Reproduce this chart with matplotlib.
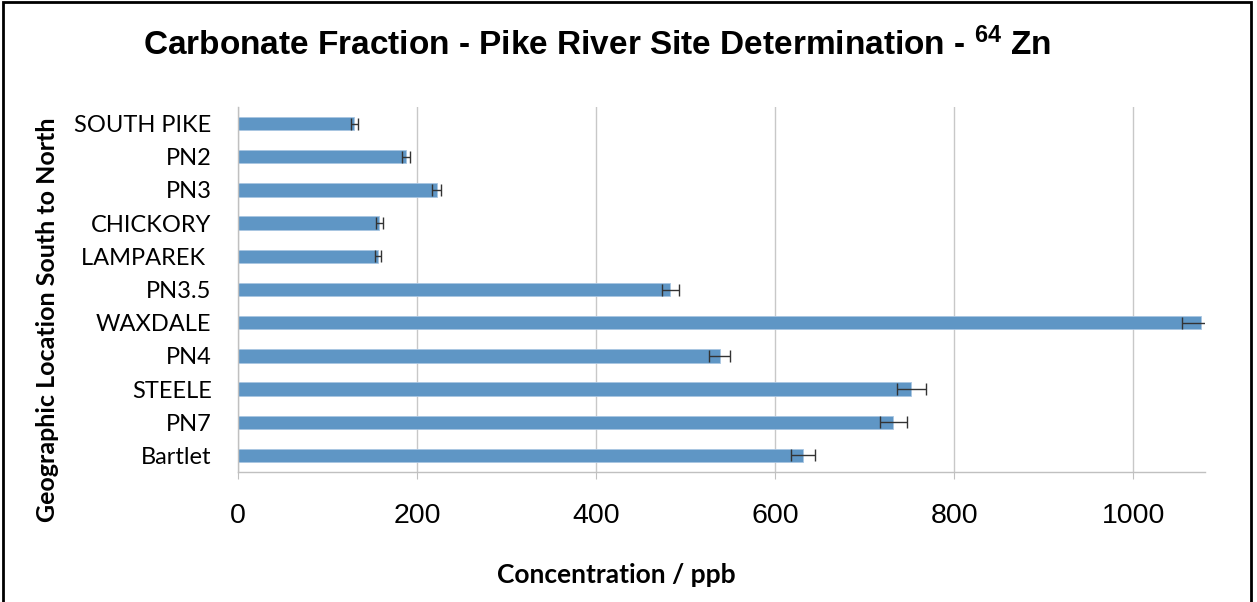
import matplotlib.pyplot as plt
from matplotlib.patches import Rectangle

plt.rcParams["mathtext.fontset"] = "custom"
plt.rcParams["mathtext.rm"] = "Liberation Sans:bold"
plt.rcParams["mathtext.it"] = "Liberation Sans:bold"
plt.rcParams["mathtext.bf"] = "Liberation Sans:bold"

# sites listed south to north (top to bottom)
sites = ["SOUTH PIKE", "PN2", "PN3", "CHICKORY", "LAMPAREK ", "PN3.5",
         "WAXDALE", "PN4", "STEELE", "PN7", "Bartlet"]
conc = [130, 188, 222, 158, 156, 483, 1075, 538, 752, 732, 631]
err = [3.5, 4.5, 5, 3.5, 3.5, 10, 21, 12, 16, 15, 13]
xticks = [0, 200, 400, 600, 800, 1000]

fig = plt.figure(figsize=(12.57, 6.02), dpi=100)
ax = fig.add_axes([238 / 1257, 130 / 602, 967 / 1257, 365 / 602])

pos = list(range(len(sites)))
ax.barh(pos, conc, height=0.4, color="#5f96c5", edgecolor="#a9c6e2",
        linewidth=0.6, zorder=2)
ax.errorbar(conc, pos, xerr=err, fmt="none", ecolor="#333333",
            elinewidth=1, capsize=4, capthick=1, zorder=3)

ax.set_xlim(0, 1080)
ax.set_ylim(len(sites) - 0.5, -0.5)
ax.set_yticks(pos)
ax.set_yticklabels(sites, fontfamily="Lato", fontsize=17)
ax.set_xticks(xticks)
ax.set_xticklabels([str(t) for t in xticks], fontfamily="Liberation Sans",
                   fontsize=20.5)

ax.grid(axis="x", color="#c8c8c8", linewidth=1, zorder=0)
ax.set_axisbelow(True)
for s in ["top", "right"]:
    ax.spines[s].set_visible(False)
for s in ["left", "bottom"]:
    ax.spines[s].set_color("#c0c0c0")
    ax.spines[s].set_linewidth(1)
ax.tick_params(axis="x", length=5, color="#c0c0c0", pad=17)
ax.tick_params(axis="y", length=0, pad=19)

fig.text(597 / 1257, 1 - 45 / 602,
         r"Carbonate Fraction - Pike River Site Determination - $^{64}$ Zn",
         ha="center", va="center", fontfamily="Liberation Sans",
         fontweight="bold", fontsize=24)
fig.text(48 / 1257, 1 - 320 / 602, "Geographic Location South to North",
         rotation=90, ha="center", va="center", fontfamily="Lato",
         fontweight="bold", fontsize=18)
fig.text(616 / 1257, 1 - 575 / 602, "Concentration / ppb", ha="center",
         va="center", fontfamily="Lato", fontweight="bold", fontsize=19)

# frame around the chart area
fig.add_artist(Rectangle((3 / 1257, -0.05), 1248 / 1257, 1.05 - 2 / 602,
                         transform=fig.transFigure, fill=False,
                         edgecolor="black", linewidth=2))

fig.savefig("out.png", dpi=100)
